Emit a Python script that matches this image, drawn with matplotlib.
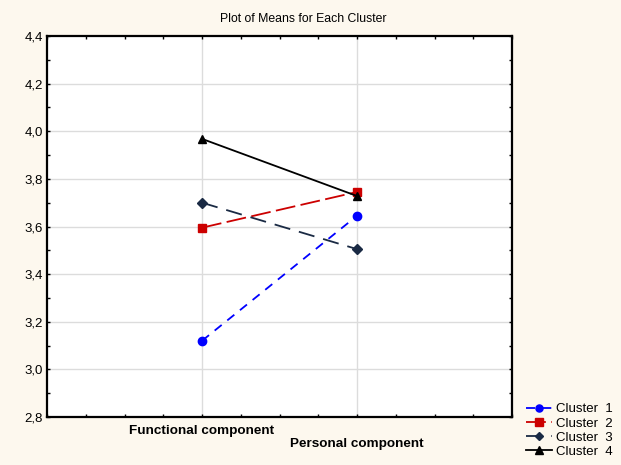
import matplotlib.pyplot as plt
from matplotlib.ticker import MultipleLocator, FuncFormatter

plt.rcParams['font.family'] = ['Liberation Sans', 'DejaVu Sans']

components = ["Functional component", "Personal component"]
x_pos = [1, 2]
clusters = ["Cluster  1", "Cluster  2", "Cluster  3", "Cluster  4"]
cluster1 = [3.12, 3.645]
cluster2 = [3.595, 3.745]
cluster3 = [3.70, 3.505]
cluster4 = [3.968, 3.728]

bg = '#fdf8ee'
fig = plt.figure(figsize=(6.21, 4.65), dpi=100, facecolor=bg)
ax = fig.add_axes([47 / 621, 1 - 417 / 465, (512 - 47) / 621, (417 - 36) / 465])
ax.set_facecolor('white')

ax.plot(x_pos, cluster1, color='#0000ff', linestyle=(0, (5, 4)), linewidth=1.3,
        marker='o', markersize=6, label=clusters[0])
ax.plot(x_pos, cluster2, color='#cc0000', linestyle=(0, (11, 3)), linewidth=1.3,
        marker='s', markersize=6, label=clusters[1])
ax.plot(x_pos, cluster3, color='#1a2a44', linestyle=(0, (9, 5)), linewidth=1.3,
        marker='D', markersize=5, label=clusters[2])
ax.plot(x_pos, cluster4, color='black', linestyle='-', linewidth=1.3,
        marker='^', markersize=6, label=clusters[3])

ax.set_xlim(0, 3)
ax.set_ylim(2.8, 4.4)
ax.yaxis.set_major_locator(MultipleLocator(0.2))
ax.yaxis.set_minor_locator(MultipleLocator(0.1))
ax.yaxis.set_major_formatter(FuncFormatter(lambda v, p: f"{v:.1f}".replace('.', ',')))
ax.xaxis.set_major_locator(MultipleLocator(0.25))
ax.tick_params(axis='both', which='both', direction='in', length=2, width=1,
               top=True, right=True, labelsize=9.5, pad=3)
ax.tick_params(axis='x', labelbottom=False)

ax.grid(False)
for yv in [3.0, 3.2, 3.4, 3.6, 3.8, 4.0, 4.2]:
    ax.axhline(yv, color='#dcdcdc', linewidth=1, zorder=0)
for xv in x_pos:
    ax.axvline(xv, color='#dcdcdc', linewidth=1, zorder=0)

for s in ax.spines.values():
    s.set_linewidth(1.6)

ax.text(1, -0.022, components[0], transform=ax.get_xaxis_transform(),
        ha='center', va='top', fontsize=9.7, fontweight='bold')
ax.text(2, -0.056, components[1], transform=ax.get_xaxis_transform(),
        ha='center', va='top', fontsize=9.7, fontweight='bold')

fig.text(303 / 621, 1 - 19 / 465, "Plot of Means for Each Cluster",
         ha='center', va='center', fontsize=8.8)

leg = fig.legend(loc='lower left', bbox_to_anchor=(518 / 621, -1 / 465),
                 frameon=False, fontsize=9.5, handlelength=2.0, handletextpad=0.3,
                 labelspacing=0.15, borderpad=0.1, markerscale=0.85)

fig.savefig('out.png', dpi=100, facecolor=bg)
